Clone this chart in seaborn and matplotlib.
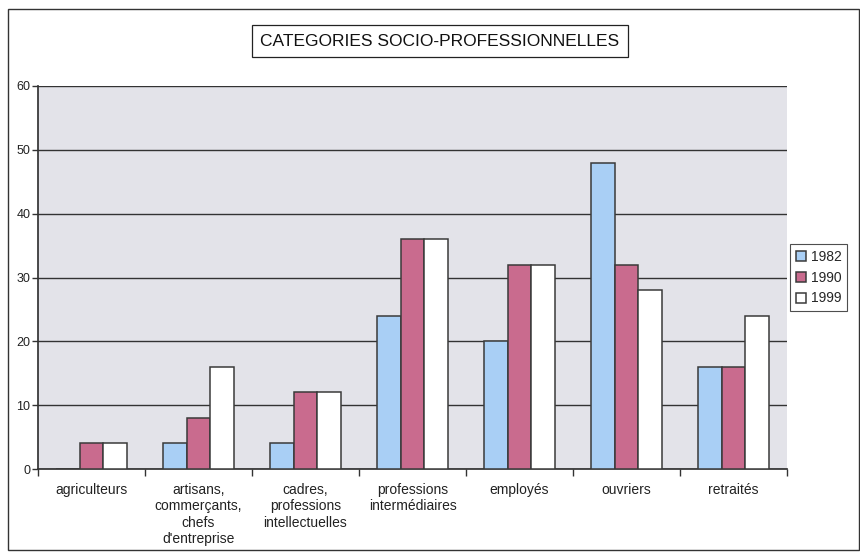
import matplotlib
matplotlib.use("Agg")
import matplotlib.pyplot as plt
import seaborn as sns
import pandas as pd
from matplotlib.patches import Rectangle

categories = ["agriculteurs", "artisans,\ncommerçants,\nchefs\nd'entreprise",
              "cadres,\nprofessions\nintellectuelles", "professions\nintermédiaires",
              "employés", "ouvriers", "retraités"]
years = ["1982", "1990", "1999"]
v1982 = [0, 4, 4, 24, 20, 48, 16]
v1990 = [4, 8, 12, 36, 32, 32, 16]
v1999 = [4, 16, 12, 36, 32, 28, 24]
colors = ["#a9cff5", "#c96b8e", "#ffffff"]

rows = []
for y, vals in zip(years, [v1982, v1990, v1999]):
    for c, v in zip(categories, vals):
        rows.append({"cat": c, "year": y, "val": v})
df = pd.DataFrame(rows)

sns.set_theme(style="white")
plt.rcParams['font.family'] = ['Liberation Sans', 'DejaVu Sans']

fig = plt.figure(figsize=(8.6, 5.58), dpi=100)
ax = fig.add_axes([38/860, 1-469/558, (787-38)/860, (469-86)/558])
ax.set_facecolor("#e3e3e9")

sns.barplot(data=df, x="cat", y="val", hue="year", palette=colors, ax=ax,
            width=0.66, edgecolor="#3a3a3a", linewidth=1.1, saturation=1,
            zorder=3)

ax.set_ylim(0, 60)
ax.set_xlim(-0.5, len(categories) - 0.5)
ax.set_yticks(range(0, 61, 10))
ax.yaxis.grid(True, color="#333333", linewidth=1.0, zorder=0)
ax.set_axisbelow(True)
ax.set_xlabel("")
ax.set_ylabel("")
for s in ["top", "right"]:
    ax.spines[s].set_visible(False)
ax.spines["left"].set_color("#333333")
ax.spines["bottom"].set_color("#333333")
ax.tick_params(axis="y", which="major", left=True, length=4, width=1, color="#333333",
               labelsize=9, pad=1.5, labelcolor="#222222")
ax.tick_params(axis="x", which="major", bottom=False, labelsize=10, pad=4,
               labelcolor="#222222")
ax.set_xticks([i - 0.5 for i in range(len(categories) + 1)], minor=True)
ax.tick_params(axis="x", which="minor", bottom=True, length=5, width=1, color="#333333")
for lab in ax.get_xticklabels():
    lab.set_linespacing(1.22)

leg = ax.legend(loc="center left", bbox_to_anchor=(1.004, 0.5), frameon=True,
                fontsize=10, handlelength=0.75, handleheight=0.75, handletextpad=0.35,
                borderpad=0.4, labelspacing=0.5, fancybox=False, borderaxespad=0)
leg.get_frame().set_edgecolor("#222222")
leg.get_frame().set_linewidth(0.8)

fig.text(440/860, 1-41/558, "CATEGORIES SOCIO-PROFESSIONNELLES", ha="center", va="center",
         fontsize=12.5, color="#111111",
         bbox=dict(boxstyle="square,pad=0.5", facecolor="white", edgecolor="#222222", linewidth=0.9))

fig.patches.append(Rectangle((8/860, 1-550/558), (859-8)/860, (550-9)/558,
                             transform=fig.transFigure, fill=False,
                             edgecolor="#333333", linewidth=1.0))

fig.savefig("out.png", dpi=100)
